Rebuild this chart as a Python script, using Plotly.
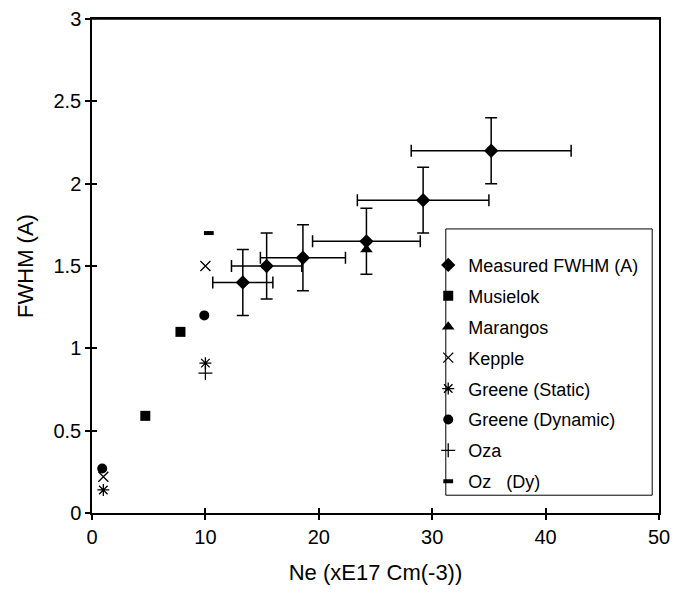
import plotly.graph_objects as go

# ---- data ----
measured_x = [13.3, 15.4, 18.6, 24.2, 29.2, 35.2]
measured_y = [1.40, 1.50, 1.55, 1.65, 1.90, 2.20]
measured_xerr = [2.65, 3.1, 3.75, 4.75, 5.8, 7.05]
measured_yerr = [0.2, 0.2, 0.2, 0.2, 0.2, 0.2]

musielok_x = [4.7, 7.8]
musielok_y = [0.59, 1.10]

marangos_x = [24.2]
marangos_y = [1.60]

kepple_x = [1.0, 10.0]
kepple_y = [0.22, 1.50]

greene_static_x = [1.0, 10.0]
greene_static_y = [0.14, 0.91]

greene_dynamic_x = [0.9, 9.9]
greene_dynamic_y = [0.27, 1.20]

oza_x = [10.0]
oza_y = [0.85]

ozdy_x = [10.3]
ozdy_y = [1.70]

x_ticks = [0, 10, 20, 30, 40, 50]
y_ticks = [0, 0.5, 1, 1.5, 2, 2.5, 3]
y_tick_labels = ["0", "0.5", "1", "1.5", "2", "2.5", "3"]

FONT = "Liberation Sans, Arial, sans-serif"
BLACK = "#000000"

fig = go.Figure()

def add(name, xs, ys, symbol, size, line_width=0, **kw):
    fig.add_trace(go.Scatter(
        x=xs, y=ys, mode="markers", name=name, legendgroup=name,
        marker=dict(symbol=symbol, size=size, color=BLACK,
                    line=dict(color=BLACK, width=line_width)),
        **kw))

add("Measured FWHM (A)", measured_x, measured_y, "diamond", 11,
    error_x=dict(type="data", array=measured_xerr, color=BLACK, thickness=1.5, width=6),
    error_y=dict(type="data", array=measured_yerr, color=BLACK, thickness=1.5, width=6))
add("Musielok", musielok_x, musielok_y, "square", 10)
add("Marangos", marangos_x, marangos_y, "triangle-up", 11)
add("Kepple", kepple_x, kepple_y, "x-thin-open", 10, 1.3)
add("Greene (Static)", greene_static_x, greene_static_y, "asterisk-open", 10, 1.3)
add("Greene (Dynamic)", greene_dynamic_x, greene_dynamic_y, "circle", 10)
add("Oza", oza_x, oza_y, "cross-thin-open", 10, 1.3)
add("Oz\u00a0\u00a0\u00a0(Dy)", ozdy_x, ozdy_y, "line-ew-open", 7, 4)

# invisible trace to host overlay axes (inside half of crossing ticks)
fig.add_trace(go.Scatter(x=[None], y=[None], xaxis="x2", yaxis="y2",
                         showlegend=False, hoverinfo="skip"))

axis_common = dict(showgrid=False, zeroline=False, color=BLACK,
                   linecolor=BLACK, linewidth=1.5, ticks="outside",
                   ticklen=5, tickwidth=1.5, tickcolor=BLACK, automargin=False,
                   ticklabeloverflow="allow",
                   tickfont=dict(family=FONT, size=20, color=BLACK))

fig.update_layout(
    width=676, height=577,
    margin=dict(l=84, r=25, t=11, b=72),
    paper_bgcolor="white", plot_bgcolor="white",
    font=dict(family=FONT, color=BLACK),
    xaxis=dict(range=[0, 50], tickvals=x_ticks, mirror=True,
               title=dict(text="Ne (xE17 Cm(-3))", font=dict(family=FONT, size=22, color=BLACK), standoff=27),
               **axis_common),
    yaxis=dict(range=[0, 3], tickvals=y_ticks, ticktext=y_tick_labels, mirror=True,
               title=dict(text="FWHM (A)", font=dict(family=FONT, size=22, color=BLACK), standoff=14),
               **axis_common),
    xaxis2=dict(range=[0, 50], overlaying="x", anchor="y2", tickvals=x_ticks,
                showticklabels=False, ticks="inside", ticklen=5, tickwidth=1.5,
                tickcolor=BLACK, showgrid=False, zeroline=False, showline=False),
    yaxis2=dict(range=[0, 3], overlaying="y", anchor="x2", tickvals=y_ticks,
                showticklabels=False, ticks="inside", ticklen=5, tickwidth=1.5,
                tickcolor=BLACK, showgrid=False, zeroline=False, showline=False),
    legend=dict(x=0.593, y=0.539, xanchor="left", yanchor="top",
                bgcolor="rgba(0,0,0,0)", borderwidth=0,
                font=dict(family=FONT, size=18, color=BLACK),
                tracegroupgap=4.5, itemwidth=30),
    shapes=[
        dict(type="rect", xref="paper", yref="paper",
             x0=0.624, x1=0.988, y0=0.036, y1=0.575,
             line=dict(color=BLACK, width=1), fillcolor="white", layer="below"),
        dict(type="line", xref="paper", yref="paper",
             x0=0, x1=1, y0=1, y1=1, line=dict(color=BLACK, width=1.5)),
    ],
    showlegend=True,
)

fig.write_html("out.html")
